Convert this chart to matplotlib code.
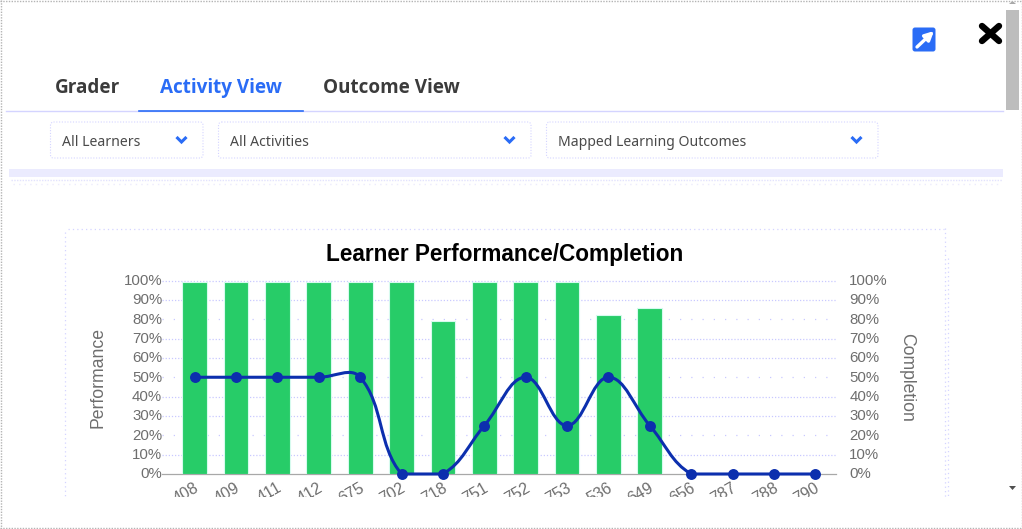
import matplotlib
matplotlib.use("Agg")
import matplotlib.pyplot as plt
from matplotlib.patches import FancyBboxPatch, PathPatch, Polygon, Rectangle
from matplotlib.path import Path
from matplotlib.transforms import ScaledTranslation

W, H = 1022, 529

learners = ["408", "409", "411", "412", "675", "702", "718", "751",
            "752", "753", "536", "649", "656", "787", "788", "790"]
performance = [99, 99, 99, 99, 99, 99, 79, 99, 99, 99, 82, 86, 0, 0, 0, 0]
completion = [50, 50, 50, 50, 50, 0, 0, 25, 50, 25, 50, 25, 0, 0, 0, 0]
pct_ticks = [0, 10, 20, 30, 40, 50, 60, 70, 80, 90, 100]
sparse_ticks = [20, 50, 80]

tabs = ["Grader", "Activity View", "Outcome View"]
dropdowns = ["All Learners", "All Activities", "Mapped Learning Outcomes"]

LAV = "#c9c9ff"
BLUE = "#2a6cf6"
GREEN = "#27cc68"
NAVY = "#0c2fae"
GREY = "#6e6e6e"

plt.rcParams["font.family"] = ["Liberation Sans", "DejaVu Sans"]

fig = plt.figure(figsize=(W / 100, H / 100), dpi=100, facecolor="white")


def px_axes(x0, y0, x1, y1, **kw):
    # axes placed from pixel corners, y measured from the top
    return fig.add_axes([x0 / W, 1 - y1 / H, (x1 - x0) / W, (y1 - y0) / H], **kw)


def nudge(labels, dx, dy):
    # shift tick labels by whole pixels, dy up
    offset = ScaledTranslation(dx / 100, dy / 100, fig.dpi_scale_trans)
    for lbl in labels:
        lbl.set_transform(lbl.get_transform() + offset)


# page furniture underneath the chart
ui = px_axes(0, 0, W, H, zorder=0)
ui.set_xlim(0, W)
ui.set_ylim(H, 0)
ui.axis("off")

ui.plot([6, 1003], [110.5, 110.5], color="#d4d4ff", lw=1)
ui.plot([139, 303], [110.5, 110.5], color=BLUE, lw=1.2)
for label, x, col in zip(tabs, [55, 159.5, 323], ["#3b3b3b", BLUE, "#3b3b3b"]):
    ui.text(x, 93, label, fontsize=13.6, fontweight="bold", family="Open Sans",
            color=col, va="baseline", ha="left")

boxes = [(50.5, 203), (218.5, 531), (546.5, 878)]
for (x0, x1), label in zip(boxes, dropdowns):
    ui.add_patch(FancyBboxPatch((x0 + 3, 125), x1 - x0 - 6, 30,
                                boxstyle="round,pad=3", fc="white", ec="#d4d4ff",
                                lw=0.8, ls=(0, (1, 1.5))))
    ui.text(x0 + 11, 146, label, fontsize=10.1, family="Noto Sans",
            color="#4a4a4a", va="baseline", ha="left")
    cx = x1 - 21.5
    ui.plot([cx - 5, cx, cx + 5], [137, 142, 137], color=BLUE, lw=2.2,
            solid_capstyle="butt", solid_joinstyle="miter")

# soft dithered shadow under the filter row
ui.add_patch(Rectangle((9, 169), 994, 8, fc="#ebebfe", ec="none"))
ui.plot([11, 1002], [179.5, 179.5], color="#e2e2fd", lw=1, ls=(0, (1, 1)))
ui.plot([13, 1000], [183.5, 183.5], color="#ecebfd", lw=1, ls=(0, (1, 3)))

# expand icon and close cross
ui.add_patch(FancyBboxPatch((915, 30), 18, 19, boxstyle="round,pad=2.5",
                            fc=BLUE, ec="none"))
ui.annotate("", xy=(934, 31), xytext=(917, 47),
            arrowprops=dict(arrowstyle="-|>", color="white", lw=2.4,
                            mutation_scale=13, shrinkA=0, shrinkB=0))
ui.plot([982, 999], [26, 41], color="black", lw=4.6, solid_capstyle="round")
ui.plot([982, 999], [41, 26], color="black", lw=4.6, solid_capstyle="round")

# card outline around the chart
card_style = dict(color="#d4d4ff", lw=0.9, ls=(0, (1, 2.5)))
ui.plot([65, 65], [232, 497], **card_style)
ui.plot([68, 944], [228.5, 228.5], **card_style)
ui.plot([944.5, 944.5], [228, 497], **card_style)
ui.plot([947.5, 947.5], [258, 497], **card_style)

# chart
ax = px_axes(174, 280.5, 836, 474, zorder=1)
ax.patch.set_alpha(0)
x = list(range(len(learners)))
ax.set_xlim(-0.5, len(learners) - 0.5)
ax.set_ylim(0, 100)

for t in pct_ticks[1:]:
    ls = (0, (1, 8)) if t in sparse_ticks else (0, (1, 1.5))
    ax.plot([-0.79, len(learners) - 0.5], [t, t], color=LAV, lw=0.9, ls=ls,
            zorder=1, clip_on=False)
ax.plot([-0.79, len(learners) - 0.5], [0, 0], color="#a8a8a8", lw=0.9, zorder=1,
        clip_on=False)

ax.bar(x, performance, width=0.6, color=GREEN, edgecolor="#d6fbee", linewidth=0.8,
       zorder=2)


def smooth_path(xs, ys, tension=0.4):
    # bezier through the points, control points capped to the plot range
    sx, sy = 662 / len(xs), 193.5 / 100
    n = len(xs)
    verts = [(xs[0], ys[0])]
    codes = [Path.MOVETO]
    ctrl = []
    for i in range(n):
        p = max(i - 1, 0)
        q = min(i + 1, n - 1)
        d01 = ((xs[i] - xs[p]) ** 2 * sx ** 2 + (ys[i] - ys[p]) ** 2 * sy ** 2) ** 0.5
        d12 = ((xs[q] - xs[i]) ** 2 * sx ** 2 + (ys[q] - ys[i]) ** 2 * sy ** 2) ** 0.5
        total = d01 + d12
        fa = tension * d01 / total if total else 0
        fb = tension * d12 / total if total else 0
        dx, dy = xs[q] - xs[p], ys[q] - ys[p]
        before = (xs[i] - fa * dx, min(max(ys[i] - fa * dy, 0), 100))
        after = (xs[i] + fb * dx, min(max(ys[i] + fb * dy, 0), 100))
        ctrl.append((before, after))
    for i in range(1, n):
        verts += [ctrl[i - 1][1], ctrl[i][0], (xs[i], ys[i])]
        codes += [Path.CURVE4] * 3
    return Path(verts, codes)


ax.add_patch(PathPatch(smooth_path(x, completion), fc="none", ec=NAVY, lw=2.2,
                       zorder=3, clip_on=False))
ax.scatter(x, completion, s=62, color=NAVY, zorder=4, clip_on=False, linewidths=0)

for side in ax.spines.values():
    side.set_visible(False)
ax.set_yticks(pct_ticks)
ax.set_yticklabels([f"{t}%" for t in pct_ticks], fontsize=10.8, color=GREY)
ax.tick_params(axis="y", length=0, pad=8.5)
nudge(ax.get_yticklabels(), 0, 1)
ax.set_xticks(x)
ax.set_xticklabels(learners, fontsize=11.5, color=GREY, rotation=30, ha="right",
                   rotation_mode="anchor")
ax.tick_params(axis="x", length=0, pad=4.5)
nudge(ax.get_xticklabels(), -1, 0)
ax.set_ylabel("Performance", fontsize=12.7, color=GREY, va="center")
ax.yaxis.set_label_coords((98.5 - 174) / 662, 0.5)

right = ax.twinx()
right.patch.set_alpha(0)
right.set_ylim(0, 100)
right.set_yticks(pct_ticks)
right.set_yticklabels([f"{t}%" for t in pct_ticks], fontsize=10.8, color=GREY)
right.tick_params(axis="y", length=0, pad=9.5)
nudge(right.get_yticklabels(), 0, 1)
right.set_ylabel("Completion", fontsize=12.7, color=GREY, rotation=270, va="center")
right.yaxis.set_label_coords((907 - 174) / 662, 0.5)
for side in right.spines.values():
    side.set_visible(False)

fig.text(505 / W, 1 - 255 / H, "Learner Performance/Completion", fontsize=16.3,
         fontweight="bold", color="black", ha="center", va="center")

# window chrome on top: the card scrolls away under the bottom edge
top = px_axes(0, 0, W, H, zorder=5)
top.patch.set_alpha(0)
top.set_xlim(0, W)
top.set_ylim(H, 0)
top.axis("off")
top.add_patch(Rectangle((1, 497), 1005, 31, fc="white", ec="none"))

top.add_patch(Rectangle((1006, 10), 13, 100, fc="#bdbdbd", ec="none"))
top.add_patch(Polygon([(1009, 4), (1016, 4), (1012.5, 1)], fc="#a8a8a8", ec="none"))
top.add_patch(Polygon([(1009, 486), (1016, 486), (1012.5, 490)], fc="#505050", ec="none"))

edge = dict(color="#b4b4b4", lw=1, ls=(0, (1, 1)))
top.plot([0, W], [0.5, 0.5], **edge)
top.plot([0.5, 0.5], [0, H], **edge)
top.plot([1021.5, 1021.5], [0, H], **edge)
top.plot([0, W], [528, 528], **edge)

fig.savefig("out.png", dpi=100, facecolor="white")
